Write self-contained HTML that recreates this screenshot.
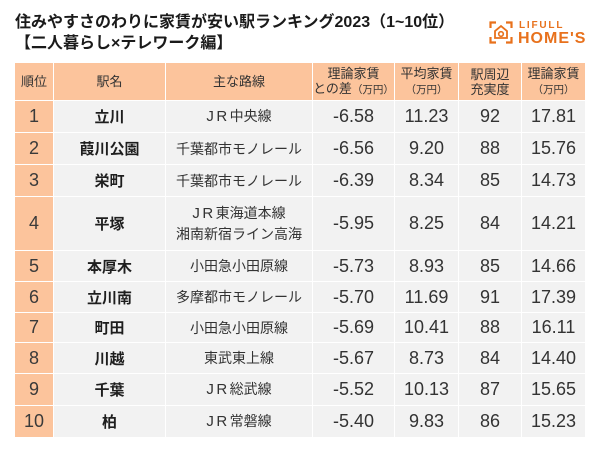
<!DOCTYPE html>
<html lang="ja">
<head>
<meta charset="utf-8">
<style>
  html, body { margin:0; padding:0; background:#ffffff; }
  body { width:600px; height:450px; position:relative; overflow:hidden;
         font-family:"Liberation Sans","Noto Sans CJK JP",sans-serif; color:#222; }
  .title { position:absolute; left:15px; top:12px; font-size:16px; font-weight:bold;
           line-height:21px; color:#1a1a1a; white-space:nowrap; }
  .logo { position:absolute; left:489px; top:21px; width:100px; height:26px; }
  .logo .t1 { position:absolute; left:30px; top:0px; font-size:10px; font-weight:bold;
              letter-spacing:1.8px; color:#e8711c; line-height:10px; }
  .logo .t2 { position:absolute; left:29px; top:10px; font-size:16px; font-weight:bold;
              letter-spacing:1px; color:#e8711c; line-height:16px; }
  .grid { position:absolute; left:15px; top:63px; width:570px; height:374px;
          display:grid; background:#ffffff; gap:1px;
          grid-template-columns:38px 111px 146px 81px 63px 62px 63px;
          grid-template-rows:37px 31px 31px 31px 53px 30px 30px 29px 30px 31px 31px; }
  .grid > div { display:flex; align-items:center; justify-content:center; text-align:center;
                background:#f2f2f2; }
  .h { background:#fcc49c !important; font-size:13px; color:#333; line-height:15px; flex-direction:column; }
  .h small { font-size:10.5px; }
  .r { background:#fcc49c !important; font-size:18px; color:#3a3a3a; }
  .s { font-size:15px; font-weight:bold; color:#1e1e1e; }
  .l { font-size:14px; color:#333; line-height:20px; flex-direction:column; }
  .n { font-size:18px; color:#333; }
  .jr { font-size:15px; letter-spacing:2.5px; }
</style>
</head>
<body>
<div class="title">住みやすさのわりに家賃が安い駅ランキング2023（1~10位）<br>【二人暮らし×テレワーク編】</div>

<div class="logo">
  <svg width="24" height="23" viewBox="0 0 24 23" style="position:absolute;left:0;top:0">
    <g fill="none" stroke="#e8711c" stroke-width="2.2">
      <path d="M1.5 7 V1.5 H7"/>
      <path d="M17 1.5 H22.5 V7"/>
      <path d="M1.5 16 V21.5 H7"/>
      <path d="M17 21.5 H22.5 V16"/>
      <path d="M6 17 V10 L12 5 L18 10 V17 Z" stroke-width="1.8"/>
      <circle cx="12" cy="13" r="2.3" stroke-width="1.6"/>
    </g>
  </svg>
  <div class="t1">LIFULL</div>
  <div class="t2">HOME'S</div>
</div>

<div class="grid">
  <div class="h">順位</div>
  <div class="h">駅名</div>
  <div class="h">主な路線</div>
  <div class="h"><span>理論家賃</span><span>との差<small>（万円）</small></span></div>
  <div class="h"><span>平均家賃</span><span><small>（万円）</small></span></div>
  <div class="h"><span>駅周辺</span><span>充実度</span></div>
  <div class="h"><span>理論家賃</span><span><small>（万円）</small></span></div>

  <div class="r">1</div><div class="s">立川</div><div class="l"><span><span class="jr">JR</span>中央線</span></div>
  <div class="n">-6.58</div><div class="n">11.23</div><div class="n">92</div><div class="n">17.81</div>

  <div class="r">2</div><div class="s">葭川公園</div><div class="l">千葉都市モノレール</div>
  <div class="n">-6.56</div><div class="n">9.20</div><div class="n">88</div><div class="n">15.76</div>

  <div class="r">3</div><div class="s">栄町</div><div class="l">千葉都市モノレール</div>
  <div class="n">-6.39</div><div class="n">8.34</div><div class="n">85</div><div class="n">14.73</div>

  <div class="r">4</div><div class="s">平塚</div><div class="l"><span><span class="jr">JR</span>東海道本線</span><span>湘南新宿ライン高海</span></div>
  <div class="n">-5.95</div><div class="n">8.25</div><div class="n">84</div><div class="n">14.21</div>

  <div class="r">5</div><div class="s">本厚木</div><div class="l">小田急小田原線</div>
  <div class="n">-5.73</div><div class="n">8.93</div><div class="n">85</div><div class="n">14.66</div>

  <div class="r">6</div><div class="s">立川南</div><div class="l">多摩都市モノレール</div>
  <div class="n">-5.70</div><div class="n">11.69</div><div class="n">91</div><div class="n">17.39</div>

  <div class="r">7</div><div class="s">町田</div><div class="l">小田急小田原線</div>
  <div class="n">-5.69</div><div class="n">10.41</div><div class="n">88</div><div class="n">16.11</div>

  <div class="r">8</div><div class="s">川越</div><div class="l">東武東上線</div>
  <div class="n">-5.67</div><div class="n">8.73</div><div class="n">84</div><div class="n">14.40</div>

  <div class="r">9</div><div class="s">千葉</div><div class="l"><span><span class="jr">JR</span>総武線</span></div>
  <div class="n">-5.52</div><div class="n">10.13</div><div class="n">87</div><div class="n">15.65</div>

  <div class="r">10</div><div class="s">柏</div><div class="l"><span><span class="jr">JR</span>常磐線</span></div>
  <div class="n">-5.40</div><div class="n">9.83</div><div class="n">86</div><div class="n">15.23</div>
</div>
</body>
</html>
